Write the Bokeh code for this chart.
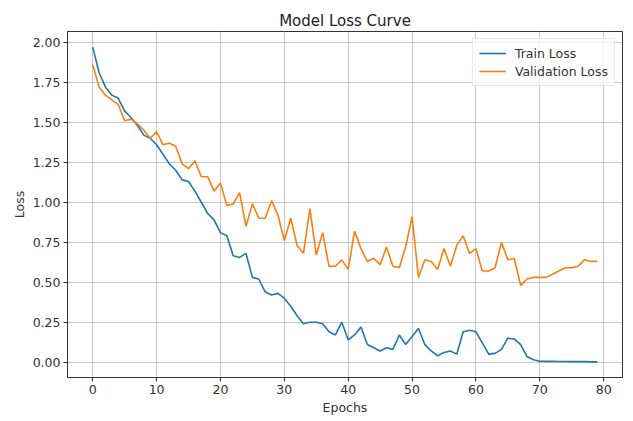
from bokeh.plotting import figure
from bokeh.models import Range1d, FixedTicker, NumeralTickFormatter, Legend, LegendItem
from bokeh.embed import file_html
from bokeh.resources import INLINE

epochs = list(range(80))
train_loss = [1.97, 1.81, 1.72, 1.67, 1.65, 1.57, 1.53, 1.48, 1.42, 1.40,
              1.36, 1.30, 1.24, 1.20, 1.14, 1.13, 1.07, 1.00, 0.93, 0.89,
              0.81, 0.79, 0.665, 0.655, 0.68, 0.53, 0.52, 0.44, 0.42, 0.43,
              0.40, 0.35, 0.29, 0.24, 0.25, 0.25, 0.24, 0.19, 0.17, 0.25,
              0.14, 0.17, 0.22, 0.11, 0.09, 0.07, 0.09, 0.08, 0.17, 0.11,
              0.16, 0.21, 0.11, 0.07, 0.04, 0.06, 0.07, 0.05, 0.19, 0.20,
              0.19, 0.12, 0.05, 0.055, 0.08, 0.15, 0.145, 0.11, 0.035, 0.015,
              0.006, 0.005, 0.005, 0.004, 0.004, 0.003, 0.003, 0.003, 0.002, 0.002]
val_loss = [1.86, 1.72, 1.67, 1.64, 1.61, 1.51, 1.52, 1.49, 1.45, 1.40,
            1.44, 1.36, 1.37, 1.35, 1.24, 1.21, 1.26, 1.16, 1.16, 1.07,
            1.12, 0.98, 0.99, 1.06, 0.85, 0.99, 0.90, 0.90, 1.01, 0.92,
            0.76, 0.90, 0.73, 0.68, 0.96, 0.67, 0.81, 0.60, 0.60, 0.64,
            0.58, 0.82, 0.71, 0.63, 0.65, 0.61, 0.72, 0.60, 0.59, 0.72,
            0.91, 0.53, 0.64, 0.63, 0.58, 0.71, 0.60, 0.73, 0.79, 0.68,
            0.71, 0.57, 0.57, 0.59, 0.75, 0.64, 0.65, 0.48, 0.52, 0.53,
            0.53, 0.53, 0.55, 0.57, 0.59, 0.59, 0.60, 0.64, 0.63, 0.63]
x_ticks = [0, 10, 20, 30, 40, 50, 60, 70, 80]
y_ticks = [0.0, 0.25, 0.5, 0.75, 1.0, 1.25, 1.5, 1.75, 2.0]

FONT = "DejaVu Sans"

p = figure(width=625, height=417, output_backend="svg", toolbar_location=None,
           title="Model Loss Curve",
           x_range=Range1d(-3.95, 82.95), y_range=Range1d(-0.096, 2.068),
           min_border_left=67, min_border_right=3, min_border_top=31, min_border_bottom=40)

p.title.align = "center"
p.title.text_font = FONT
p.title.text_font_size = "15px"
p.title.text_font_style = "normal"
p.title.text_color = "#222222"
p.title.standoff = 4

p.outline_line_color = "#333333"
p.outline_line_width = 1

for ax in (p.xaxis[0], p.yaxis[0]):
    ax.axis_line_color = "#333333"
    ax.major_tick_line_color = "#333333"
    ax.minor_tick_line_color = None
    ax.major_tick_out = 4
    ax.major_tick_in = 0
    ax.major_label_text_font = FONT
    ax.major_label_text_font_size = "12.5px"
    ax.major_label_text_color = "#333333"
    ax.axis_label_text_font = FONT
    ax.axis_label_text_font_size = "12.5px"
    ax.axis_label_text_font_style = "normal"
    ax.axis_label_text_color = "#333333"
    ax.axis_label_standoff = 3
    ax.major_label_standoff = 3

p.xaxis.axis_label = "Epochs"
p.yaxis.axis_label = "Loss"
p.xaxis.ticker = FixedTicker(ticks=x_ticks)
p.yaxis.ticker = FixedTicker(ticks=y_ticks)
p.yaxis.formatter = NumeralTickFormatter(format="0.00")

p.xgrid.ticker = FixedTicker(ticks=x_ticks)
p.ygrid.ticker = FixedTicker(ticks=y_ticks)
p.grid.grid_line_color = "#b0b0b0"
p.grid.grid_line_alpha = 0.7

r1 = p.line(epochs, train_loss, line_color="#1f77b4", line_width=1.6)
r2 = p.line(epochs, val_loss, line_color="#ff7f0e", line_width=1.6)

legend = Legend(items=[LegendItem(label="Train Loss", renderers=[r1]),
                       LegendItem(label="Validation Loss", renderers=[r2])],
                location="top_right")
legend.label_text_font = FONT
legend.label_text_font_size = "12.5px"
legend.label_text_color = "#333333"
legend.border_line_color = "#d0d0d0"
legend.background_fill_alpha = 0.8
legend.glyph_width = 27
legend.glyph_height = 16
legend.label_height = 16
legend.spacing = 2
legend.padding = 6
legend.margin = 7
legend.label_standoff = 9
p.add_layout(legend)

open("out.html", "w").write(file_html(p, INLINE))
